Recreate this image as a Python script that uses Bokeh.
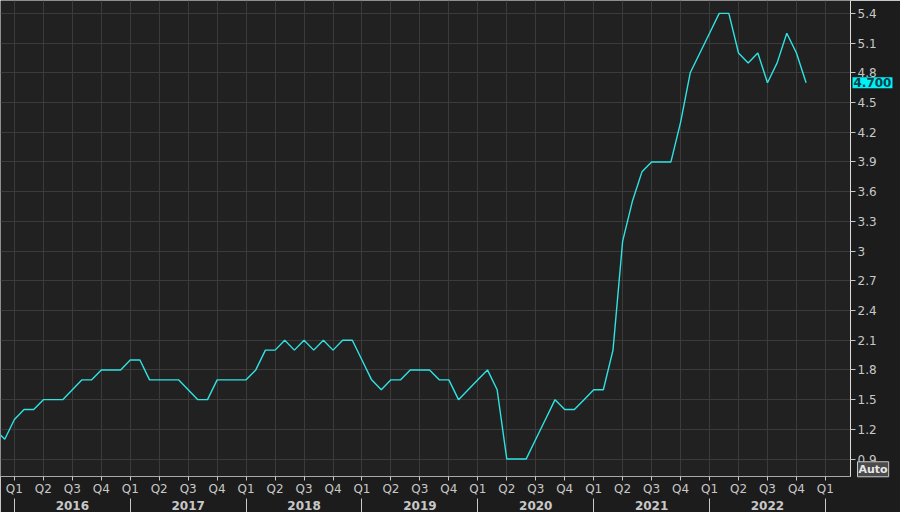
import pandas as pd
from bokeh.plotting import figure
from bokeh.models import FixedTicker, LinearAxis, Range1d, Label, ColumnDataSource
from bokeh.embed import file_html
from bokeh.resources import INLINE

# ---- data (monthly) ----
months = [str(p) for p in pd.period_range("2015-11", "2022-11", freq="M")]
values = [
    1.2, 1.1,                                                       # 2015 Nov-Dec
    1.3, 1.4, 1.4, 1.5, 1.5, 1.5, 1.6, 1.7, 1.7, 1.8, 1.8, 1.8,     # 2016
    1.9, 1.9, 1.7, 1.7, 1.7, 1.7, 1.6, 1.5, 1.5, 1.7, 1.7, 1.7,     # 2017
    1.7, 1.8, 2.0, 2.0, 2.1, 2.0, 2.1, 2.0, 2.1, 2.0, 2.1, 2.1,     # 2018
    1.9, 1.7, 1.6, 1.7, 1.7, 1.8, 1.8, 1.8, 1.7, 1.7, 1.5, 1.6,     # 2019
    1.7, 1.8, 1.6, 0.9, 0.9, 0.9, 1.1, 1.3, 1.5, 1.4, 1.4, 1.5,     # 2020
    1.6, 1.6, 2.0, 3.1, 3.5, 3.8, 3.9, 3.9, 3.9, 4.3, 4.8, 5.0,     # 2021
    5.2, 5.4, 5.4, 5.0, 4.9, 5.0, 4.7, 4.9, 5.2, 5.0, 4.7,          # 2022
]
quarter_names = ["Q1", "Q2", "Q3", "Q4"]
years = ["2016", "2017", "2018", "2019", "2020", "2021", "2022"]
y_ticks = [0.9, 1.2, 1.5, 1.8, 2.1, 2.4, 2.7, 3.0, 3.3, 3.6, 3.9, 4.2, 4.5, 4.8, 5.1, 5.4]
y_tick_labels = ["0.9", "1.2", "1.5", "1.8", "2.1", "2.4", "2.7", "3", "3.3", "3.6",
                 "3.9", "4.2", "4.5", "4.8", "5.1", "5.4"]
last_label = "4.700"
scale_mode_label = "Auto"

# months since Jan 2016
x = [(int(m[:4]) - 2016) * 12 + int(m[5:7]) - 1 for m in months]
source = ColumnDataSource(dict(x=x, y=values, month=months))

x_start, x_end = -1.44, 86.6
y_start, y_end = 0.724, 5.53

TEXT = "#c8c8c8"
FONT = "DejaVu Sans"

p = figure(frame_width=850, frame_height=476,
           x_range=Range1d(x_start, x_end), y_range=Range1d(y_start, y_end),
           output_backend="svg", toolbar_location=None,
           y_axis_location="right",
           min_border_left=0, min_border_top=0, min_border_right=34, min_border_bottom=0)

p.background_fill_color = "#212121"
p.border_fill_color = "#1c1c1c"
p.outline_line_color = None

p.line("x", "y", source=source, line_color="#2fe3e3", line_width=1.4)

# ---- quarter axis (default below axis) ----
q_ticks = list(range(0, 85, 3))
xa = p.xaxis[0]
xa.ticker = FixedTicker(ticks=q_ticks, minor_ticks=[])
xa.major_label_overrides = {t: quarter_names[(t // 3) % 4] for t in q_ticks}
xa.major_tick_in = 0
xa.major_tick_out = 4
xa.minor_tick_in = 0
xa.minor_tick_out = 0
xa.major_tick_line_color = TEXT
xa.axis_line_color = "#a8a8a8"
xa.major_label_text_color = TEXT
xa.major_label_text_font = FONT
xa.major_label_text_font_size = "12px"
xa.major_label_standoff = 1

# ---- year axis ----
yr_ticks = [6 + 12 * i for i in range(len(years))]
yr_bounds = [12 * i for i in range(len(years) + 1)]
ya2 = LinearAxis(ticker=FixedTicker(ticks=yr_ticks, minor_ticks=yr_bounds))
ya2.major_label_overrides = {t: years[i] for i, t in enumerate(yr_ticks)}
ya2.major_tick_in = 0
ya2.major_tick_out = 0
ya2.minor_tick_in = 0
ya2.minor_tick_out = 14
ya2.minor_tick_line_color = TEXT
ya2.axis_line_color = None
ya2.major_label_text_color = TEXT
ya2.major_label_text_font = FONT
ya2.major_label_text_font_style = "bold"
ya2.major_label_text_font_size = "12px"
ya2.major_label_standoff = -12
p.add_layout(ya2, "below")

# ---- right value axis ----
ra = p.yaxis[0]
ra.ticker = FixedTicker(ticks=y_ticks, minor_ticks=[])
ra.major_label_overrides = {t: s for t, s in zip(y_ticks, y_tick_labels)}
ra.major_tick_in = 0
ra.major_tick_out = 5
ra.major_tick_line_color = TEXT
ra.minor_tick_line_color = None
ra.axis_line_color = "#dcdcdc"
ra.major_label_text_color = TEXT
ra.major_label_text_font = FONT
ra.major_label_text_font_size = "12px"
ra.major_label_standoff = 2

# ---- grid ----
p.xgrid.ticker = FixedTicker(ticks=q_ticks)
p.xgrid.grid_line_color = "#3b3b3b"
p.xgrid.grid_line_width = 1
p.ygrid.ticker = FixedTicker(ticks=y_ticks)
p.ygrid.grid_line_color = "#3b3b3b"
p.ygrid.grid_line_width = 1

# ---- last value tag and scale tag (in the right panel so they are not clipped) ----
tag = Label(x=x_end, y=values[-1], text=last_label, x_offset=2,
            text_align="left", text_baseline="middle",
            text_font=FONT, text_font_style="bold", text_font_size="12px",
            text_color="#0a3d4d", background_fill_color="#00f2f2",
            padding=1)
p.add_layout(tag, "right")

auto = Label(x=x_end, y=0.797, text=scale_mode_label, x_offset=7,
             text_align="left", text_baseline="middle",
             text_font=FONT, text_font_style="bold", text_font_size="11px",
             text_color="#e6e6e6", background_fill_color="#4a4a4a",
             border_line_color="#c8c8c8", padding=1)
p.add_layout(auto, "right")

open("out.html", "w").write(file_html(p, INLINE))
